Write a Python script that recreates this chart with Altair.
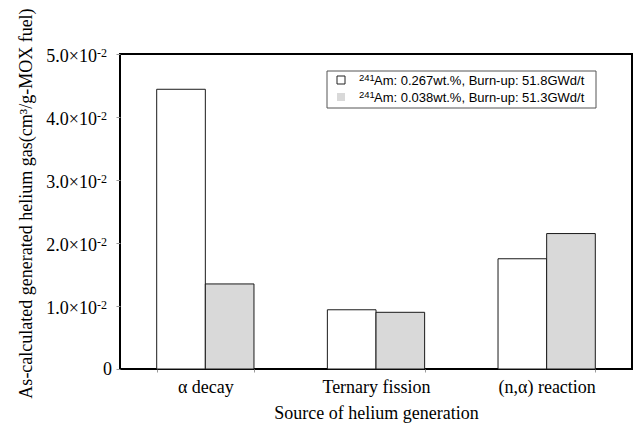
import altair as alt
import pandas as pd

# Helium generated in MOX fuel, by source, for two 241Am contents
categories = ["α decay", "Ternary fission", "(n,α) reaction"]
series_labels = ["Am: 0.267wt.%, Burn-up: 51.8GWd/t", "Am: 0.038wt.%, Burn-up: 51.3GWd/t"]
series_isotope = ["241", "241"]
am_0267 = [0.0444, 0.0094, 0.0175]
am_0038 = [0.0135, 0.0090, 0.0215]

y_ticks = [0.01, 0.02, 0.03, 0.04, 0.05]
tick_mantissas = ["1.0", "2.0", "3.0", "4.0", "5.0"]
tick_exponent = "-2"

fills = ["#ffffff", "#d9d9d9"]
serif = "Liberation Serif"
sans = "Liberation Sans"

rows = []
for s, vals in zip(series_labels, [am_0267, am_0038]):
    for c, v in zip(categories, vals):
        rows.append({"source": c, "series": s, "value": v})
bar_df = pd.DataFrame(rows)

tick_df = pd.DataFrame({
    "value": y_ticks,
    "base": [m + "×10" for m in tick_mantissas],
    "exp": [tick_exponent] * len(y_ticks),
})
zero_df = pd.DataFrame({"value": [0.0], "base": ["0"]})
legend_df = pd.DataFrame({"series": series_labels, "iso": series_isotope, "row": [0, 1]})

fill_scale = alt.Scale(domain=series_labels, range=fills)
y_scale = alt.Scale(domain=[0, 0.05], nice=False)

y_axis = alt.Axis(
    values=[0] + y_ticks, labels=False, grid=False, domain=False,
    tickSize=4, tickColor="#999999",
    title="As-calculated generated helium gas(cm³/g-MOX fuel)",
    titleFont=serif, titleFontSize=18, titleFontWeight="normal",
    titleColor="black", titleX=-94, titleY=149, titleBaseline="middle",
)

bars = alt.Chart(bar_df).mark_bar(stroke="#1a1a1a", strokeWidth=1).encode(
    x=alt.X(
        "source:N", sort=categories,
        scale=alt.Scale(paddingInner=0.43, paddingOuter=0.215),
        axis=alt.Axis(
            title="Source of helium generation", labelAngle=0,
            labelFont=serif, labelFontSize=18, labelColor="black", labelPadding=6,
            titleFont=serif, titleFontSize=18, titleFontWeight="normal",
            titleColor="black", titlePadding=8,
            tickBand="extent", tickSize=3, tickColor="#999999", domain=False,
        ),
    ),
    xOffset=alt.XOffset("series:N", sort=series_labels,
                        scale=alt.Scale(paddingInner=0, paddingOuter=0)),
    y=alt.Y("value:Q", scale=y_scale, axis=y_axis),
    fill=alt.Fill("series:N", scale=fill_scale, legend=None),
)

# y tick labels written as mantissa×10 with a raised exponent
tick_base = alt.Chart(tick_df).mark_text(
    font=serif, fontSize=18, align="right", baseline="alphabetic", dy=8, color="black"
).encode(y=alt.Y("value:Q", scale=y_scale, axis=y_axis), x=alt.value(-23), text="base:N")

tick_exp = alt.Chart(tick_df).mark_text(
    font=serif, fontSize=12, align="left", baseline="alphabetic", dy=3, color="black"
).encode(y=alt.Y("value:Q", scale=y_scale, axis=y_axis), x=alt.value(-23), text="exp:N")

zero_label = alt.Chart(zero_df).mark_text(
    font=serif, fontSize=18, align="right", baseline="alphabetic", dy=6, color="black"
).encode(y=alt.Y("value:Q", scale=y_scale, axis=y_axis), x=alt.value(-8), text="base:N")

# legend box in the upper right of the plot
legend_box = alt.Chart(legend_df.head(1)).mark_rect(
    fill="white", stroke="#555555", strokeWidth=1
).encode(x=alt.value(207), x2=alt.value(476), y=alt.value(17), y2=alt.value(54))

legend_layers = []
for i in range(2):
    sub = alt.Chart(legend_df).transform_filter(alt.datum.row == i)
    legend_layers.append(
        sub.mark_square(size=64, opacity=1, stroke="#222222",
                        strokeWidth=1 if i == 0 else 0).encode(
            x=alt.value(221), y=alt.value(26 + 17 * i),
            fill=alt.Fill("series:N", scale=fill_scale, legend=None),
        )
    )
    legend_layers.append(
        sub.mark_text(font=sans, fontSize=9.5, align="left", baseline="alphabetic",
                      color="black").encode(
            x=alt.value(239), y=alt.value(27 + 17 * i), text="iso:N")
    )
    legend_layers.append(
        sub.mark_text(font=sans, fontSize=13, align="left", baseline="alphabetic",
                      color="black").encode(
            x=alt.value(254), y=alt.value(31 + 17 * i), text="series:N")
    )

chart = alt.layer(
    bars, tick_base, tick_exp, zero_label, legend_box, *legend_layers
).properties(
    width=512, height=315,
    autosize=alt.AutoSizeParams(type="none"),
    padding={"left": 120, "top": 54, "right": 2, "bottom": 58},
    background="white",
).configure_view(stroke="black", strokeWidth=2)

chart.save("out.html", embed_options={"renderer": "svg", "actions": False})
